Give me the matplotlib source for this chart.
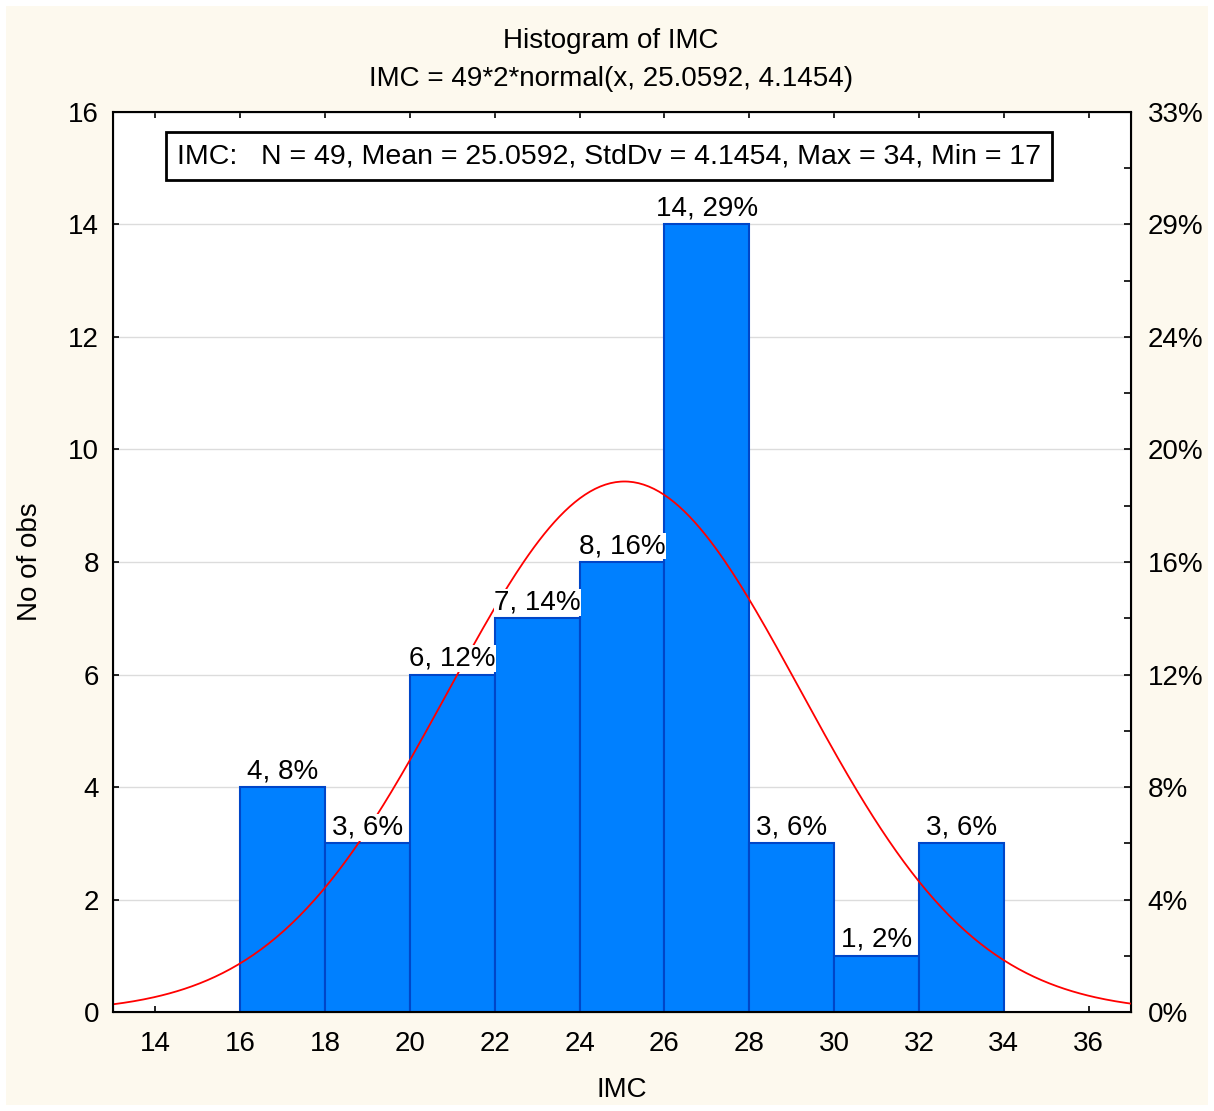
import numpy as np
import matplotlib.pyplot as plt
from matplotlib.patches import Rectangle

plt.rcParams['font.family'] = ['Liberation Sans', 'DejaVu Sans']

# data
bin_edges = [16, 18, 20, 22, 24, 26, 28, 30, 32, 34]
counts = [4, 3, 6, 7, 8, 14, 3, 1, 3]
n_obs = 49
mean_imc = 25.0592
std_imc = 4.1454
x_ticks = [14, 16, 18, 20, 22, 24, 26, 28, 30, 32, 34, 36]
y_ticks = [0, 2, 4, 6, 8, 10, 12, 14, 16]

FS = 20

fig = plt.figure(figsize=(12.14, 11.11), dpi=100, facecolor='white')
fig.patches.append(Rectangle((0.005, 0.005), 0.99, 0.99, transform=fig.transFigure,
                             facecolor='#fdf9ee', edgecolor='none', zorder=-10))
ax = fig.add_axes([0.0931, 0.0891, 0.8385, 0.8101])
ax.set_facecolor('white')

lefts = bin_edges[:-1]
widths = np.diff(bin_edges)
ax.bar(lefts, counts, width=widths, align='edge', color='#0080ff',
       edgecolor='#0046c8', linewidth=1.5, zorder=2)

# normal curve: 49*2*normal(x, mean, sd)
xs = np.linspace(13, 37, 400)
ys = n_obs * 2 * np.exp(-0.5 * ((xs - mean_imc) / std_imc) ** 2) / (std_imc * np.sqrt(2 * np.pi))
ax.plot(xs, ys, color='#ff0000', linewidth=1.3, zorder=3)

for l, w, c in zip(lefts, widths, counts):
    pct = int(round(c / n_obs * 100))
    ax.text(l + w / 2, c + 0.05, f"{c}, {pct}%", ha='center', va='bottom', fontsize=FS,
            zorder=4, bbox=dict(facecolor='white', edgecolor='none', pad=0.3))

ax.set_xlim(13, 37)
ax.set_ylim(0, 16)
ax.set_xticks(x_ticks)
ax.set_yticks(y_ticks)
ax.tick_params(axis='both', direction='in', labelsize=FS, length=4, width=1.2,
               top=True)
ax.tick_params(axis='x', pad=14)
ax.tick_params(axis='y', pad=10)
ax.grid(axis='y', color='#dcdcdc', linewidth=1, zorder=0)
ax.set_axisbelow(True)
for s in ax.spines.values():
    s.set_linewidth(1.5)

ax2 = ax.twinx()
ax2.set_ylim(0, 16)
ax2.set_yticks(y_ticks)
ax2.set_yticklabels([f"{int(round(v / n_obs * 100))}%" for v in y_ticks])
ax2.set_yticks(np.arange(1, 16, 2), minor=True)
ax2.tick_params(axis='y', direction='in', labelsize=FS, length=5, width=1.2, pad=12)
ax2.tick_params(axis='y', which='minor', direction='in', length=5, width=1.2)

ax.set_xlabel("IMC", fontsize=FS, labelpad=14)
ax.set_ylabel("No of obs", fontsize=FS, labelpad=18)

fig.text(0.503, 0.963, "Histogram of IMC", ha='center', va='center', fontsize=FS)
fig.text(0.503, 0.929, "IMC = 49*2*normal(x, 25.0592, 4.1454)", ha='center', va='center', fontsize=FS)

ax.text(0.0625, 0.951, "IMC:   N = 49, Mean = 25.0592, StdDv = 4.1454, Max = 34, Min = 17",
        transform=ax.transAxes, ha='left', va='center', fontsize=20.5, zorder=5,
        bbox=dict(facecolor='white', edgecolor='black', linewidth=2, pad=8))

fig.savefig("out.png", dpi=100, facecolor=fig.get_facecolor())
